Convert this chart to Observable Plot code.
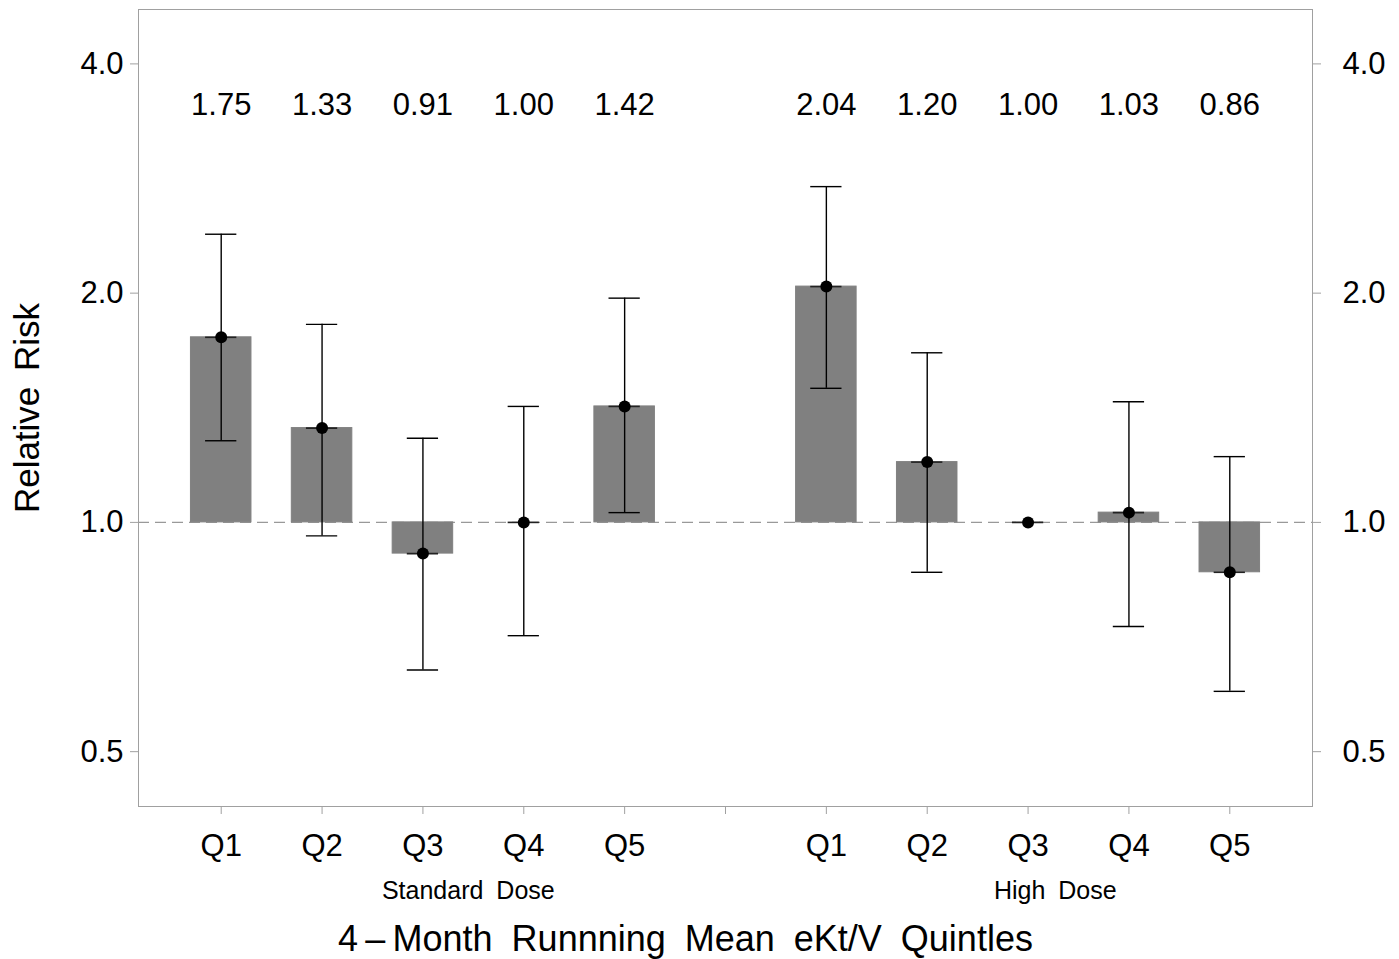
<!DOCTYPE html>
<html><head><meta charset="utf-8">
<script src="https://cdn.jsdelivr.net/npm/d3@7"></script>
<script src="https://cdn.jsdelivr.net/npm/@observablehq/plot@0.6"></script>
<style>body{margin:0;background:#fff}</style>
</head><body><div id="chart"></div>
<script>
// ---- data ----
const groups = ["Standard Dose", "High Dose"];
const quintiles = ["Q1", "Q2", "Q3", "Q4", "Q5"];
const standardRR = [1.75, 1.33, 0.91, 1.00, 1.42];
const standardLower = [1.28, 0.96, 0.64, 0.71, 1.03];
const standardUpper = [2.39, 1.82, 1.29, 1.42, 1.97];
const highRR = [2.04, 1.20, 1.00, 1.03, 0.86];
const highLower = [1.50, 0.86, null, 0.73, 0.60];
const highUpper = [2.76, 1.67, null, 1.44, 1.22];
const yTicks = [0.5, 1.0, 2.0, 4.0];
const yTitle = "Relative Risk";
const xTitle = "4\u2009\u2013\u2009Month Runnning Mean eKt/V Quintles";

// ---- table built from arrays ----
const series = [
  {group: groups[0], rr: standardRR, lo: standardLower, hi: standardUpper, offset: 1},
  {group: groups[1], rr: highRR, lo: highLower, hi: highUpper, offset: 7}
];
const rows = series.flatMap(s => quintiles.map((q, i) => ({
  group: s.group, q, pos: s.offset + i, rr: s.rr[i], lo: s.lo[i], hi: s.hi[i]
})));
const ciRows = rows.filter(d => d.lo != null);
const tickPos = d3.range(1, 12);
const tickLabel = new Map(rows.map(d => [d.pos, d.q]));
const groupRows = [
  {name: groups[0], pos: 3.45},
  {name: groups[1], pos: 9.27}
];

const gray = "#a0a0a0";
const chart = Plot.plot({
  width: 1399, height: 959,
  marginLeft: 138, marginRight: 87, marginTop: 9, marginBottom: 153,
  style: {fontFamily: "'Liberation Sans', Arial, sans-serif", fontSize: "31px", color: "black", background: "white"},
  x: {type: "linear", domain: [0.18, 11.82]},
  y: {type: "log", domain: [0.4236, 4.715]},
  marks: [
    Plot.ruleY([1], {stroke: "#999", strokeDasharray: "11,6", strokeWidth: 1.3}),
    Plot.rect(rows, {x1: d => d.pos - 0.3, x2: d => d.pos + 0.3, y1: d => 1, y2: "rr", fill: "#808080", stroke: "#808080", strokeWidth: 1}),
    Plot.ruleX(ciRows, {x: "pos", y1: "lo", y2: "hi", stroke: "black", strokeWidth: 1.4}),
    Plot.ruleY(ciRows, {y: "hi", x1: d => d.pos - 0.155, x2: d => d.pos + 0.155, stroke: "black", strokeWidth: 1.4}),
    Plot.ruleY(ciRows, {y: "lo", x1: d => d.pos - 0.155, x2: d => d.pos + 0.155, stroke: "black", strokeWidth: 1.4}),
    Plot.ruleY(rows, {y: "rr", x1: d => d.pos - 0.155, x2: d => d.pos + 0.155, stroke: "#222", strokeWidth: 1.6}),
    Plot.dot(rows, {x: "pos", y: "rr", r: 6, fill: "black", stroke: null}),
    Plot.text(rows, {x: "pos", text: d => d.rr.toFixed(2), frameAnchor: "top", dy: 83, fontSize: 31}),
    Plot.frame({stroke: gray}),
    Plot.axisY({anchor: "left", ticks: yTicks, tickFormat: d => d.toFixed(1), tickSize: 8, tickPadding: 7, stroke: gray, label: null, fontSize: 31}),
    Plot.axisY({anchor: "right", ticks: yTicks, tickFormat: d => d.toFixed(1), tickSize: 8, tickPadding: 22, stroke: gray, label: null, fontSize: 31}),
    Plot.axisX({ticks: tickPos, tickFormat: d => tickLabel.get(d) ?? "", tickSize: 8, tickPadding: 19, stroke: gray, label: null, fontSize: 31}),
    Plot.text(groupRows, {x: "pos", text: "name", frameAnchor: "bottom", dy: 92, fontSize: 25}),
    Plot.text([yTitle], {text: d => d, frameAnchor: "left", textAnchor: "middle", rotate: -90, dx: -111, fontSize: 35}),
    Plot.text([xTitle], {text: d => d, frameAnchor: "bottom", textAnchor: "middle", dx: -40, dy: 144, fontSize: 36})
  ]
});
d3.select(chart).selectAll("text")
  .filter(function() { return this.textContent === yTitle || groups.includes(this.textContent); })
  .style("word-spacing", "6px");
d3.select(chart).selectAll("text")
  .filter(function() { return this.textContent === xTitle; })
  .style("word-spacing", "9px");
document.getElementById("chart").appendChild(chart);
</script>
</body></html>
